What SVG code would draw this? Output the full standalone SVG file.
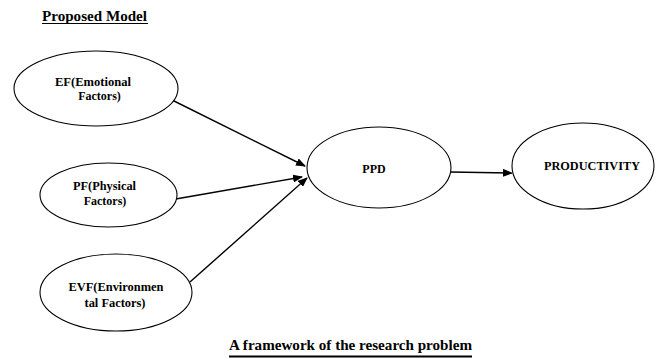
<svg xmlns="http://www.w3.org/2000/svg" width="656" height="358" viewBox="0 0 656 358">
<style>
.n{fill:#fff;stroke:#000;stroke-width:1.1}
.t{font-family:"Liberation Serif","Times New Roman",serif;font-weight:bold;font-size:12px;fill:#000;text-anchor:middle}
.h{font-family:"Liberation Serif","Times New Roman",serif;font-weight:bold;fill:#000}
.c{stroke:#000;stroke-width:1.4;fill:none;marker-end:url(#ah)}
</style>
<defs>
<marker id="ah" markerWidth="10" markerHeight="8" refX="9" refY="4" orient="auto" markerUnits="userSpaceOnUse">
<path d="M0,0 L10,4 L0,8 Z" fill="#000"/>
</marker>
</defs>
<rect width="656" height="358" fill="#fff"/>
<g id="title">
<text class="h" x="42" y="21" font-size="14" textLength="105" lengthAdjust="spacingAndGlyphs">Proposed Model</text>
<line x1="42" y1="23.5" x2="148" y2="23.5" stroke="#000" stroke-width="1"/>
</g>
<g id="connectors">
<line class="c" x1="170" y1="99" x2="305" y2="166"/>
<line class="c" x1="170" y1="200" x2="302" y2="177"/>
<line class="c" x1="190" y1="282" x2="307" y2="178"/>
<line class="c" x1="450" y1="172" x2="512" y2="173"/>
</g>
<g id="EF">
<ellipse class="n" cx="96" cy="88.5" rx="82" ry="37.5"/>
<text class="t" x="93" y="86" textLength="76" lengthAdjust="spacingAndGlyphs">EF(Emotional</text>
<text class="t" x="99.5" y="100">Factors)</text>
</g>
<g id="PF">
<ellipse class="n" cx="108.5" cy="195" rx="68.5" ry="32"/>
<text class="t" x="104.5" y="190" textLength="63" lengthAdjust="spacingAndGlyphs">PF(Physical</text>
<text class="t" x="105" y="205">Factors)</text>
</g>
<g id="EVF">
<ellipse class="n" cx="116" cy="292.5" rx="76" ry="38.5"/>
<text class="t" x="116" y="291" textLength="95" lengthAdjust="spacingAndGlyphs">EVF(Environmen</text>
<text class="t" x="115" y="307" textLength="61" lengthAdjust="spacingAndGlyphs">tal Factors)</text>
</g>
<g id="PPD">
<ellipse class="n" cx="379" cy="167.5" rx="72" ry="40.5"/>
<text class="t" x="374" y="173">PPD</text>
</g>
<g id="PRODUCTIVITY">
<ellipse class="n" cx="583" cy="166" rx="71" ry="43"/>
<text class="t" x="592" y="170" textLength="96" lengthAdjust="spacingAndGlyphs">PRODUCTIVITY</text>
</g>
<g id="caption">
<text class="h" x="229" y="350" font-size="14" textLength="243" lengthAdjust="spacingAndGlyphs">A framework of the research problem</text>
<line x1="229" y1="356.5" x2="472" y2="356.5" stroke="#000" stroke-width="2"/>
</g>
</svg>
